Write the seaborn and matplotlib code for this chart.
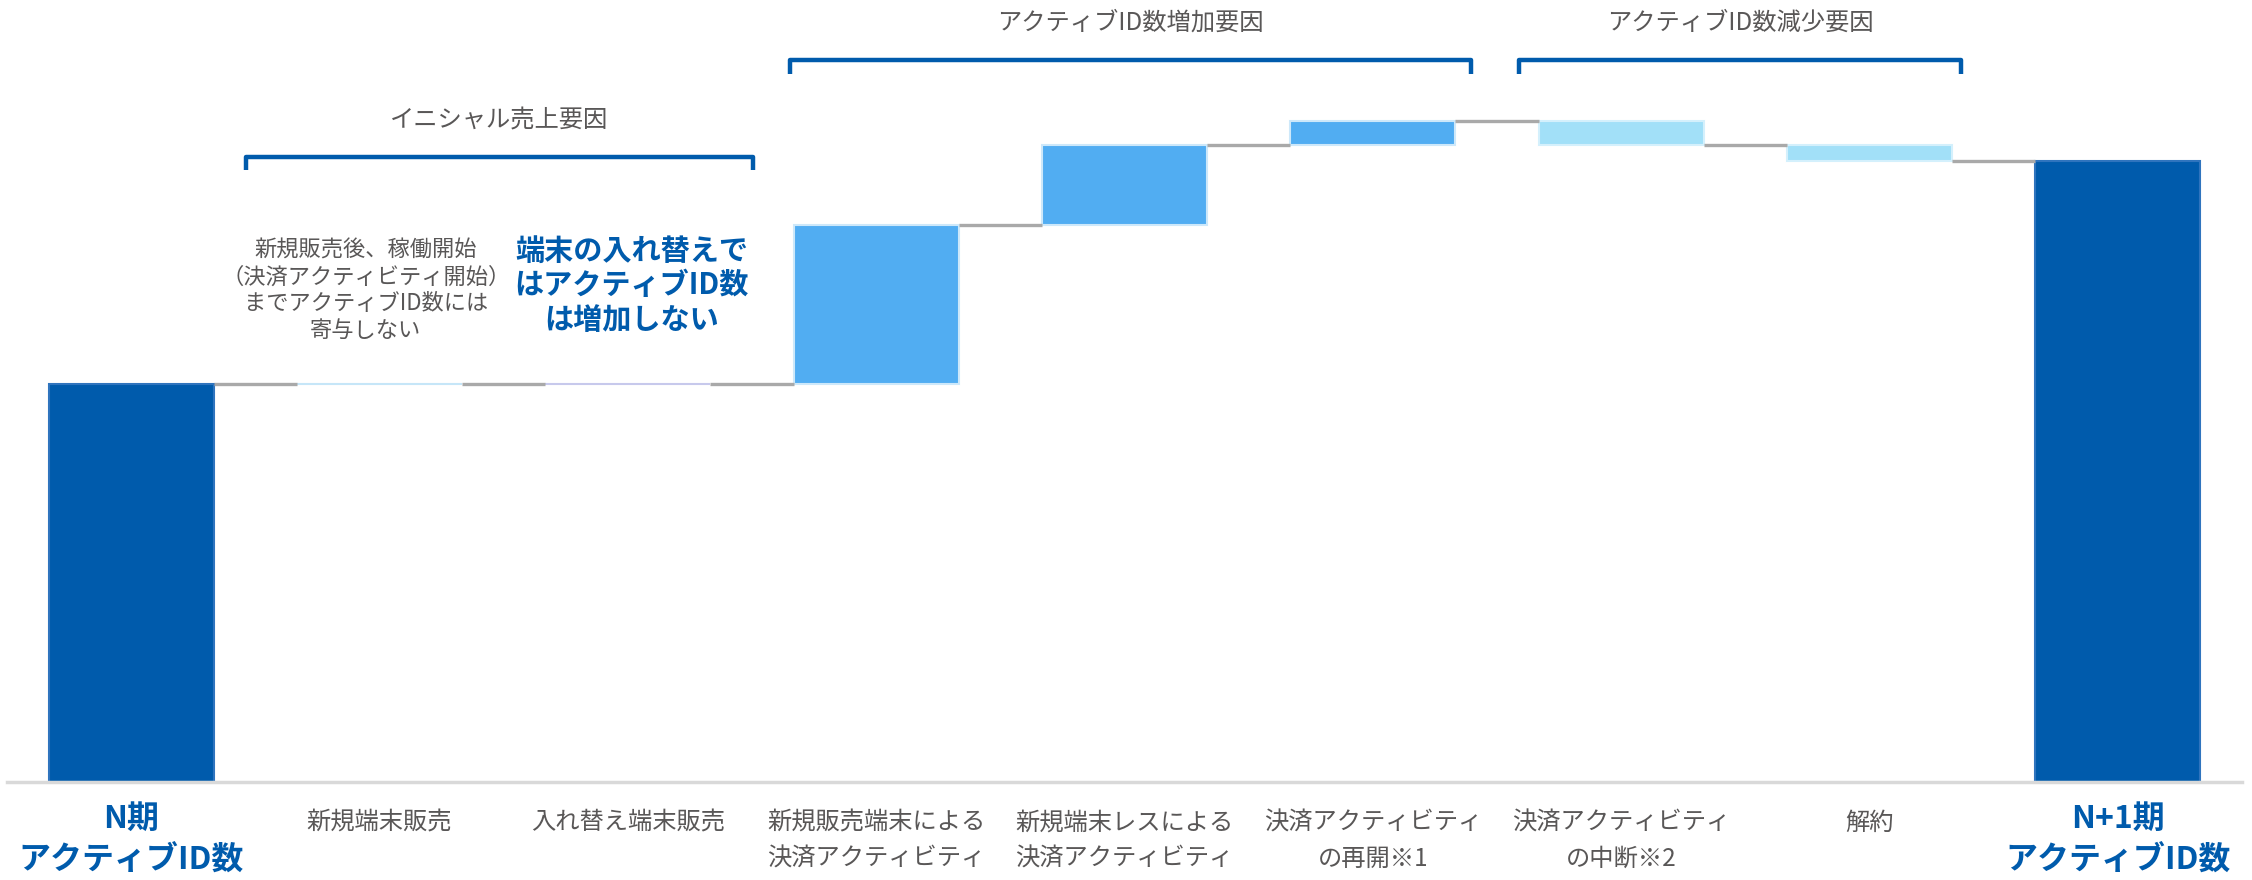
import matplotlib
matplotlib.use("Agg")
import matplotlib.pyplot as plt
import matplotlib.transforms as mtrans
import seaborn as sns
import numpy as np
import pandas as pd

# ---------------- data ----------------
categories = ["N期\nアクティブID数", "新規端末販売", "入れ替え端末販売",
              "新規販売端末による\n決済アクティビティ", "新規端末レスによる\n決済アクティビティ",
              "決済アクティビティ\nの再開※1", "決済アクティビティ\nの中断※2", "解約",
              "N+1期\nアクティブID数"]
start_value = 100
deltas = [0, 0, 40, 20, 6, -6, -4]          # steps between the two totals
bar_colors = ["#005BAC", "#C6E6F8", "#C7C9EC", "#51ADF2", "#51ADF2",
              "#51ADF2", "#A2E0F8", "#A2E0F8", "#005BAC"]
edge_colors = ["#2F74BE", "#C6E6F8", "#C7C9EC", "#CDE8FA", "#CDE8FA",
               "#CDE8FA", "#D4F0FC", "#D4F0FC", "#2F74BE"]

group_titles = ["イニシャル売上要因", "アクティブID数増加要因", "アクティブID数減少要因"]
note_gray = "新規販売後、稼働開始\n（決済アクティビティ開始）\nまでアクティブID数には\n寄与しない"
note_blue = "端末の入れ替えで\nはアクティブID数\nは増加しない"

# ---------------- derived waterfall geometry ----------------
levels = [start_value]
for d in deltas:
    levels.append(levels[-1] + d)
end_value = levels[-1]
bottoms = [0]
heights = [start_value]
for i, d in enumerate(deltas):
    lo = min(levels[i], levels[i + 1])
    bottoms.append(lo)
    heights.append(abs(d))
bottoms.append(0)
heights.append(end_value)

df = pd.DataFrame({"cat": categories, "h": heights})

# ---------------- figure ----------------
sns.set_theme(style="white")
plt.rcParams["font.family"] = ["Noto Sans CJK JP", "DejaVu Sans"]

fig = plt.figure(figsize=(22.52, 8.8), dpi=100)
ax = fig.add_axes([7 / 2252, 98 / 880, 2235 / 2252, 782 / 880])

sns.barplot(data=df, x="cat", y="h", hue="cat", palette=bar_colors,
            legend=False, width=0.664, ax=ax, saturation=1)

for patch, b, ec in zip(ax.patches, bottoms, edge_colors):
    patch.set_y(b)
    patch.set_edgecolor(ec)
    patch.set_linewidth(1.5)

ax.set_xlim(-0.5, len(categories) - 0.5)
ax.set_ylim(0, 196.5)

# connectors
half = 0.664 / 2
for i in range(len(categories) - 1):
    lvl = levels[i] if i < len(levels) else end_value
    ax.plot([i + half, i + 1 - half], [lvl, lvl], color="#A9A9A9", lw=2.4,
            solid_capstyle="butt", zorder=1)

# axes styling
for s in ["top", "right", "left"]:
    ax.spines[s].set_visible(False)
ax.spines["bottom"].set_color("#D9D9D9")
ax.spines["bottom"].set_linewidth(2.5)
ax.set_yticks([])
ax.set_xlabel("")
ax.set_ylabel("")
ax.set_xticks(range(len(categories)))
ax.set_xticklabels(categories)
ax.tick_params(axis="x", length=0, pad=20)
shift_up = mtrans.ScaledTranslation(0, 5 / 72, fig.dpi_scale_trans)
for k, lab in enumerate(ax.get_xticklabels()):
    lab.set_linespacing(1.5)
    if k in (0, len(categories) - 1):
        lab.set_fontsize(23)
        lab.set_fontweight("bold")
        lab.set_color("#005BAC")
        lab.set_linespacing(1.4)
        lab.set_transform(lab.get_transform() + shift_up)
    else:
        lab.set_fontsize(17.5)
        lab.set_color("#595757")
ax.grid(False)

# brackets
bcol = "#005BAC"
def bracket(x0, x1, y, tick, title, ty):
    ax.plot([x0, x0, x1, x1], [y - tick, y, y, y - tick], color=bcol, lw=3.2,
            solid_joinstyle="round", solid_capstyle="butt", clip_on=False)
    ax.text((x0 + x1) / 2, ty, title, ha="center", va="center",
            fontsize=17.5, color="#595757")

bracket(0.461, 2.503, 157.0, 3.3, group_titles[0], 166.3)
bracket(2.652, 5.394, 181.3, 3.5, group_titles[1], 190.8)
bracket(5.588, 7.368, 181.3, 3.5, group_titles[2], 190.8)

ax.text(0.945, 123.6, note_gray, ha="center", va="center", fontsize=16,
        color="#595757", linespacing=1.2)
ax.text(2.016, 124.8, note_blue, ha="center", va="center", fontsize=21,
        color="#005BAC", fontweight="bold", linespacing=1.2)

fig.savefig("out.png", dpi=100, facecolor="white")
